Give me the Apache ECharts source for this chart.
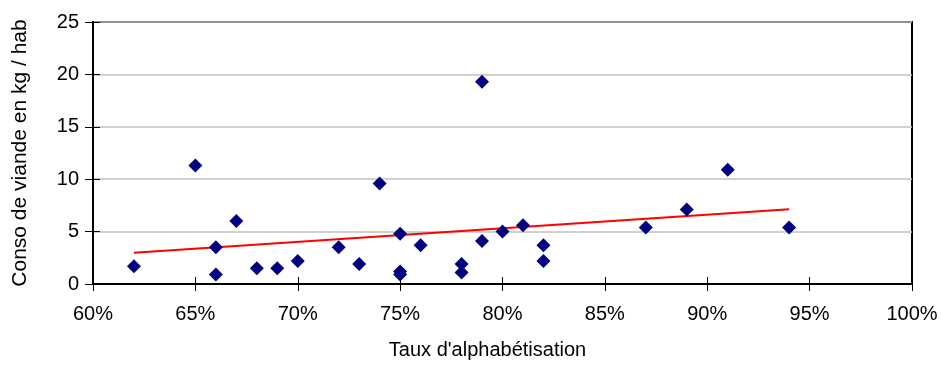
<!DOCTYPE html>
<html lang="fr">
<head>
  <meta charset="UTF-8">
  <title>Conso de viande</title>
  <script src="https://cdn.jsdelivr.net/npm/echarts@6/dist/echarts.min.js"></script>
  <style>
    html, body { margin: 0; padding: 0; background: #fff; }
  </style>
</head>
<body>
  <div id="chart" style="width: 942px; height: 365px"></div>

  <script>
    // taux d'alphabétisation (%) / conso de viande (kg / hab)
    const taux = [62, 65, 66, 66, 67, 68, 69, 70, 72, 73, 74, 75, 75, 75, 76, 78, 78, 79, 79, 80, 81, 82, 82, 87, 89, 91, 94]
    const conso = [1.7, 11.3, 3.5, 0.9, 6.0, 1.5, 1.5, 2.2, 3.5, 1.9, 9.6, 4.8, 1.2, 0.9, 3.7, 1.9, 1.1, 19.3, 4.1, 5.0, 5.6, 3.7, 2.2, 5.4, 7.1, 10.9, 5.4]
    // courbe de tendance (extrémités)
    const trendX = [62, 94]
    const trendY = [2.98, 7.14]

    const dom = document.getElementById('chart')
    const myChart = echarts.init(dom)
    const font = 'Liberation Sans, Arial, sans-serif'

    const option = {
      animation: false,
      grid: {
        left: 93,
        right: 30,
        top: 22,
        bottom: 77,
        show: true,
        borderColor: '#000',
        borderWidth: 2
      },
      xAxis: [
        {
          type: 'value',
          min: 60,
          max: 100,
          interval: 5,
          name: "Taux d'alphabétisation",
          nameLocation: 'middle',
          nameGap: 56,
          nameTextStyle: { fontFamily: font, fontSize: 20, color: '#000', padding: [0, 30, 0, 0] },
          axisLine: { lineStyle: { color: '#000', width: 2 } },
          axisTick: { length: 7, lineStyle: { color: '#000' } },
          axisLabel: { formatter: '{value}%', fontFamily: font, fontSize: 20, color: '#000', margin: 20 },
          splitLine: { show: false }
        },
        {
          type: 'value',
          position: 'bottom',
          min: 60,
          max: 100,
          interval: 5,
          axisLine: { show: false },
          axisTick: { inside: true, length: 7, lineStyle: { color: '#000' } },
          axisLabel: { show: false },
          splitLine: { show: false }
        }
      ],
      yAxis: [
        {
          type: 'value',
          min: 0,
          max: 25,
          interval: 5,
          name: 'Conso de viande en kg / hab',
          nameLocation: 'middle',
          nameGap: 62,
          nameTextStyle: { fontFamily: font, fontSize: 21, color: '#000' },
          axisLine: { show: true, lineStyle: { color: '#000', width: 2 } },
          axisTick: { show: true, length: 8, lineStyle: { color: '#000' } },
          axisLabel: { fontFamily: font, fontSize: 20, color: '#000', margin: 14 },
          splitLine: { show: true, lineStyle: { color: '#c0c0c0', width: 1.5 } }
        },
        {
          type: 'value',
          position: 'left',
          min: 0,
          max: 25,
          interval: 5,
          axisLine: { show: false },
          axisTick: { show: true, inside: true, length: 7, lineStyle: { color: '#000' } },
          axisLabel: { show: false },
          splitLine: { show: false }
        }
      ],
      series: [
        {
          type: 'line',
          data: trendX.map((x, i) => [x, trendY[i]]),
          symbol: 'none',
          lineStyle: { color: '#ff0000', width: 2 },
          z: 2
        },
        {
          type: 'scatter',
          data: taux.map((x, i) => [x, conso[i]]),
          symbol: 'diamond',
          symbolSize: 14,
          itemStyle: { color: '#000080', opacity: 1 },
          z: 3
        }
      ]
    }

    myChart.setOption(option)
  </script>
</body>
</html>
